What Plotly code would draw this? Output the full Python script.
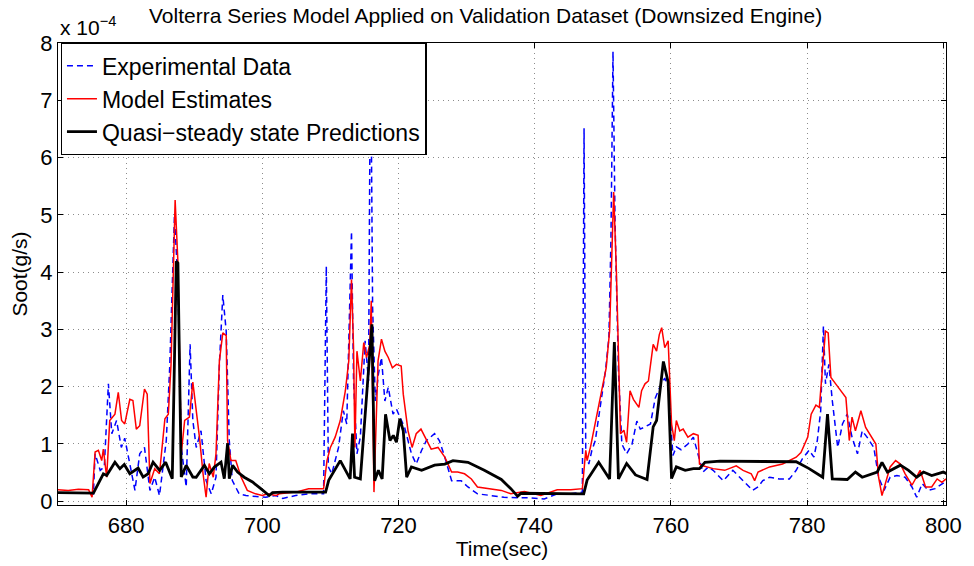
import plotly.graph_objects as go

# values in units of 1e-4 g/s
exp_t = [670, 672, 674, 675.2, 675.45, 676.2, 676.8, 677.4, 677.9, 678.6, 679.3, 679.8, 680.55, 681.3, 682.0, 682.7, 683.5, 684.2, 684.9, 685.9, 686.4, 687.1, 687.6, 688.1, 688.83, 689.4, 689.8, 690.3, 691.0, 691.75, 692.5, 693.2, 693.7, 694.2, 694.7, 695.15, 695.6, 696.6, 697.6, 699, 700.5, 702.0, 703, 704.9, 706.8, 709.0, 709.4, 709.7, 710.2, 711.2, 711.9, 712.4, 713.1, 713.4, 713.9, 714.4, 715.1, 715.6, 715.9, 716.2, 716.6, 717.05, 717.5, 718.0, 718.5, 719.2, 719.7, 720.2, 720.9, 721.4, 721.9, 722.6, 723.4, 724.1, 725.3, 726.0, 726.8, 727.8, 729.2, 730.2, 731.6, 733.6, 735.5, 737.5, 739.4, 741.4, 743.3, 745.3, 747.0, 747.25, 747.5, 747.95, 748.4, 748.9, 749.7, 750.4, 750.9, 751.2, 751.5, 751.8, 752.3, 752.8, 753.5, 754.3, 755.0, 755.5, 756.2, 757.0, 757.7, 758.4, 759.1, 759.6, 760.3, 760.8, 761.5, 762.5, 763.3, 764.0, 764.7, 765.5, 766.2, 767.7, 769.1, 770.1, 771.3, 772.0, 772.8, 773.5, 774.5, 775.9, 777.4, 778.4, 779.3, 780.3, 781.0, 781.5, 782.0, 782.4, 782.7, 783.2, 783.7, 784.5, 785.2, 785.9, 786.6, 787.4, 788.1, 788.8, 789.8, 790.5, 791.3, 792.2, 793.2, 794.4, 795.4, 796.1, 796.9, 797.8, 798.8, 799.8, 800.5]
exp_v = [0.15, 0.14, 0.15, 0.13, 0.83, 0.54, 0.6, 2.05, 1.18, 1.41, 0.94, 1.1, 0.65, 0.19, 0.83, 0.94, 0.19, 0.42, 0.1, 1.06, 2.33, 4.98, 3.84, 0.94, 0.25, 2.74, 1.41, 0.94, 1.23, 0.36, 0.13, 0.42, 2.39, 3.6, 2.97, 1.06, 0.36, 0.13, 0.1, 0.08, 0.07, 0.1, 0.05, 0.1, 0.13, 0.13, 4.1, 0.6, 0.48, 0.94, 1.58, 1.35, 4.71, 2.1, 0.83, 1.12, 2.8, 2.1, 8.3, 3.38, 1.75, 2.22, 2.51, 1.75, 1.99, 1.52, 1.61, 1.47, 1.29, 1.06, 0.83, 0.65, 0.89, 1.06, 1.18, 1.06, 0.77, 0.36, 0.36, 0.25, 0.13, 0.1, 0.07, 0.06, 0.06, 0.04, 0.13, 0.13, 0.16, 6.51, 0.83, 0.65, 0.89, 1.06, 1.7, 2.28, 2.86, 4.6, 7.85, 4.89, 2.28, 1.0, 0.83, 1.0, 1.4, 1.26, 1.3, 1.35, 1.8, 2.0, 2.15, 2.0, 0.8, 0.95, 0.9, 1.0, 1.12, 0.83, 0.51, 0.6, 0.54, 0.36, 0.54, 0.42, 0.28, 0.19, 0.25, 0.36, 0.42, 0.39, 0.39, 0.54, 0.74, 0.89, 0.77, 1.06, 1.58, 3.06, 2.05, 2.39, 1.76, 0.94, 1.35, 1.52, 1.12, 0.83, 1.23, 1.12, 0.94, 0.42, 0.19, 0.42, 0.45, 0.42, 0.25, 0.07, 0.31, 0.19, 0.22, 0.31, 0.36]

mod_t = [670, 671.5, 673, 674.5, 675.0, 675.45, 675.93, 676.42, 676.66, 677.15, 677.6, 678.36, 678.85, 679.34, 679.8, 680.55, 681.0, 681.5, 682.0, 682.7, 683.1, 683.5, 684.2, 684.9, 685.7, 686.2, 686.6, 687.2, 687.6, 688.1, 688.6, 689.3, 689.8, 690.5, 690.8, 691.3, 691.75, 692.2, 692.8, 693.2, 693.7, 694.2, 694.7, 694.9, 695.4, 696.1, 696.9, 697.8, 699.0, 700.0, 700.75, 702.0, 702.5, 704.9, 706.8, 709.0, 709.5, 710.0, 710.7, 711.45, 712.2, 712.7, 713.1, 713.4, 713.6, 713.9, 714.4, 714.9, 715.3, 715.8, 716.0, 716.4, 717.0, 717.5, 718.0, 718.5, 719.1, 719.7, 720.4, 720.7, 721.0, 721.4, 722.0, 722.6, 723.3, 723.9, 724.8, 725.8, 726.8, 727.8, 728.7, 729.7, 730.7, 731.6, 733.6, 735.1, 736.5, 738.5, 740.9, 743.3, 745.3, 747.0, 747.5, 747.7, 748.2, 748.9, 749.7, 750.5, 751.0, 751.6, 752.0, 752.3, 752.6, 753.1, 753.5, 754.0, 754.5, 755.3, 755.7, 756.2, 756.7, 757.4, 757.9, 758.3, 758.65, 759.1, 759.6, 760.1, 760.5, 760.8, 761.3, 761.8, 762.5, 763.3, 764.0, 764.2, 764.7, 766.2, 767.9, 769.6, 770.6, 771.8, 772.3, 772.8, 774.5, 776.4, 778.4, 779.1, 780.1, 780.6, 781.3, 781.8, 782.3, 782.7, 783.1, 783.5, 784.2, 784.9, 785.7, 786.2, 786.6, 787.1, 787.9, 788.6, 789.3, 790.1, 790.5, 791.0, 791.5, 792.2, 793.0, 793.7, 794.4, 795.4, 796.6, 797.4, 798.3, 799.1, 799.8, 800.4]
mod_v = [0.2, 0.19, 0.21, 0.2, 0.07, 0.86, 0.89, 0.71, 0.91, 0.42, 1.41, 1.52, 1.9, 1.41, 1.35, 1.78, 1.76, 1.26, 1.32, 1.96, 1.87, 0.31, 0.57, 0.48, 1.44, 1.52, 2.39, 5.26, 4.2, 0.83, 1.41, 1.47, 2.08, 1.41, 1.09, 0.48, 0.07, 0.66, 0.42, 0.83, 2.45, 2.94, 2.89, 1.06, 0.71, 0.71, 0.42, 0.19, 0.13, 0.1, 0.13, 0.1, 0.13, 0.16, 0.22, 0.22, 0.71, 0.94, 1.12, 1.41, 1.93, 2.45, 3.87, 2.68, 0.94, 2.62, 2.1, 2.77, 2.51, 2.74, 3.5, 0.16, 2.45, 2.83, 2.62, 2.51, 2.33, 2.39, 2.36, 1.87, 1.58, 1.23, 0.94, 1.18, 1.26, 1.12, 0.91, 0.94, 0.77, 0.51, 0.51, 0.48, 0.39, 0.25, 0.22, 0.19, 0.13, 0.17, 0.1, 0.2, 0.2, 0.22, 0.89, 0.71, 0.95, 1.35, 1.81, 2.33, 2.97, 5.4, 4.0, 2.28, 1.18, 1.24, 1.03, 1.93, 1.78, 1.64, 1.93, 2.05, 2.1, 2.74, 2.62, 2.91, 3.03, 2.68, 2.8, 1.35, 1.06, 1.41, 1.23, 1.26, 1.12, 1.18, 1.15, 0.65, 0.62, 0.57, 0.54, 0.62, 0.54, 0.48, 0.36, 0.51, 0.6, 0.65, 0.77, 0.85, 1.12, 1.52, 1.68, 1.64, 2.39, 2.97, 2.94, 2.16, 2.05, 1.93, 1.81, 1.06, 1.47, 1.23, 1.58, 1.29, 1.15, 1.0, 0.42, 0.1, 0.31, 0.6, 0.71, 0.65, 0.48, 0.28, 0.54, 0.25, 0.25, 0.39, 0.33, 0.39]

qss_t = [670, 675.2, 676.66, 677.15, 678.36, 679.09, 679.73, 680.55, 681.77, 682.5, 683.23, 683.96, 684.93, 685.81, 686.78, 687.37, 687.61, 688.1, 688.83, 689.8, 690.29, 691.5, 692.23, 692.96, 693.94, 694.42, 694.91, 695.15, 695.64, 696.37, 697.34, 698.56, 699.78, 701.0, 701.5, 703, 709.3, 709.75, 711.45, 712.9, 713.25, 713.55, 714.4, 716.1, 716.5, 717.05, 717.6, 718.1, 718.75, 719.24, 719.7, 720.2, 720.7, 721.2, 721.9, 723.4, 725.3, 726.8, 728.0, 730.2, 732.6, 735.1, 736.5, 737.5, 738, 741.4, 747.2, 747.7, 749.4, 751.0, 751.7, 752.3, 753.5, 754.8, 756.5, 757.4, 757.9, 758.9, 759.6, 760.1, 760.8, 762.1, 763.3, 764.2, 765.0, 767.2, 772.0, 778.4, 780.3, 782.3, 783.0, 783.7, 785.9, 787.1, 788.1, 790.3, 791.0, 791.8, 793.7, 794.9, 796.1, 797.1, 798.3, 800.0, 800.5]
qss_v = [0.15, 0.144, 0.48, 0.45, 0.683, 0.568, 0.643, 0.48, 0.579, 0.423, 0.48, 0.683, 0.539, 0.683, 0.394, 4.19, 4.16, 0.423, 0.626, 0.423, 0.42, 0.626, 0.48, 0.597, 0.683, 0.394, 1.014, 0.394, 0.626, 0.51, 0.42, 0.336, 0.22, 0.1, 0.15, 0.16, 0.16, 0.365, 0.71, 0.39, 1.18, 0.42, 0.39, 3.09, 0.36, 0.54, 0.39, 1.52, 1.06, 1.15, 1.03, 1.44, 1.23, 0.42, 0.6, 0.54, 0.63, 0.65, 0.71, 0.68, 0.54, 0.38, 0.22, 0.086, 0.14, 0.14, 0.13, 0.37, 0.68, 0.39, 2.78, 0.39, 0.66, 0.46, 0.38, 1.3, 1.41, 2.44, 2.08, 0.4, 0.6, 0.54, 0.57, 0.57, 0.68, 0.7, 0.7, 0.69, 0.57, 0.42, 1.52, 0.39, 0.38, 0.51, 0.42, 0.51, 0.68, 0.51, 0.63, 0.54, 0.42, 0.51, 0.45, 0.51, 0.48]

x_ticks = [680, 700, 720, 740, 760, 780, 800]
y_ticks = [0, 1, 2, 3, 4, 5, 6, 7, 8]

FONT = "Liberation Sans, Arial, sans-serif"

fig = go.Figure()
fig.add_trace(go.Scatter(x=exp_t, y=exp_v, mode="lines", name="Experimental Data",
                         line=dict(color="#0000ff", width=1.5, dash="6px,4px")))
fig.add_trace(go.Scatter(x=mod_t, y=mod_v, mode="lines", name="Model Estimates",
                         line=dict(color="#ff0000", width=1.5)))
fig.add_trace(go.Scatter(x=qss_t, y=qss_v, mode="lines", name="Quasi\u2212steady state Predictions",
                         line=dict(color="#000000", width=2.8)))

axis_common = dict(showline=True, linecolor="black", linewidth=1.2, mirror="ticks",
                   ticks="inside", ticklen=5, tickcolor="black",
                   showgrid=True, gridcolor="#8c8c8c", griddash="1px,4px", gridwidth=1,
                   zeroline=False, tickfont=dict(family=FONT, size=22, color="black"))

fig.update_layout(
    width=974, height=566,
    margin=dict(l=58, r=23, t=43, b=58),
    paper_bgcolor="white", plot_bgcolor="white",
    font=dict(family=FONT, color="black"),
    xaxis=dict(range=[670, 800.4], tickvals=x_ticks, ticktext=[str(v) for v in x_ticks],
               title=dict(text="Time(sec)", font=dict(size=21), standoff=2), **axis_common),
    yaxis=dict(range=[-0.065, 8.0], tickvals=y_ticks, ticktext=[str(v) for v in y_ticks],
               title=dict(text="Soot(g/s)", font=dict(size=21), standoff=6), **axis_common),
    legend=dict(x=0.003, y=1.0, xanchor="left", yanchor="top",
                bgcolor="white", bordercolor="black", borderwidth=1.3,
                font=dict(family=FONT, size=23, color="black"),
                tracegroupgap=0, itemwidth=30),
    showlegend=True,
)
fig.add_annotation(text="Volterra Series Model Applied on Validation Dataset (Downsized Engine)",
                   xref="paper", yref="paper", x=0.4815, y=1.0, yshift=28, xanchor="center", yanchor="middle",
                   showarrow=False, font=dict(family=FONT, size=21, color="black"))
fig.add_annotation(text="x 10<sup>\u22124</sup>", xref="paper", yref="paper", x=0.0, y=1.0, yshift=2,
                   xanchor="left", yanchor="bottom", showarrow=False,
                   font=dict(family=FONT, size=21, color="black"))

fig.write_html("out.html")
